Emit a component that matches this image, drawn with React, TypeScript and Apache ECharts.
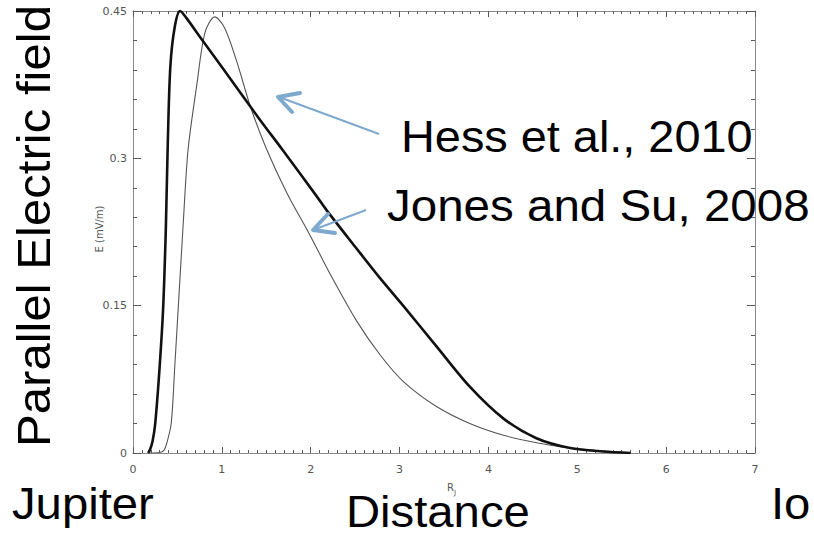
import React, { useEffect, useRef } from "react";
import * as echarts from "echarts";

// Hess et al., 2010 (thick line)
const hessX = [0.17, 0.19, 0.22, 0.25, 0.3, 0.34, 0.37, 0.39, 0.42, 0.47, 0.53, 0.6, 0.75, 1.0, 1.43, 1.68, 2.07, 2.18, 2.5, 2.78, 3.04, 3.42, 3.79, 4.17, 4.54, 4.92, 5.29, 5.6];
const hessY = [0, 0.003, 0.012, 0.03, 0.088, 0.149, 0.23, 0.31, 0.393, 0.434, 0.45, 0.443, 0.424, 0.393, 0.339, 0.309, 0.261, 0.247, 0.21, 0.178, 0.15, 0.108, 0.0675, 0.035, 0.015, 0.005, 0.0015, 0];

// Jones and Su, 2008 (thin line)
const jonesX = [0.19, 0.3, 0.35, 0.38, 0.43, 0.47, 0.51, 0.57, 0.62, 0.72, 0.81, 0.92, 1.03, 1.17, 1.32, 1.5, 1.73, 1.99, 2.22, 2.52, 2.78, 3.04, 3.42, 3.79, 4.17, 4.54, 4.92, 5.29, 5.6];
const jonesY = [0, 0.0005, 0.003, 0.01, 0.03, 0.088, 0.149, 0.241, 0.309, 0.376, 0.428, 0.444, 0.433, 0.398, 0.353, 0.31, 0.265, 0.222, 0.182, 0.134, 0.1, 0.073, 0.047, 0.03, 0.018, 0.0105, 0.005, 0.002, 0];

const xMin = 0, xMax = 7, xStep = 1;
const yMin = 0, yMax = 0.45, yStep = 0.15;

const seriesNames = ["Hess et al., 2010", "Jones and Su, 2008"];
const yAxisName = "E (mV/m)";
const bigYLabel = "Parallel Electric field";
const leftLabel = "Jupiter";
const centerLabel = "Distance";
const rightLabel = "Io";

const tickGray = "#5a5a5a";
const lineGray = "#8a8a8a";
const labelGray = "#555";
const arrowBlue = "#7ea9cf";
const bigFont = "Liberation Sans, Arial, sans-serif";

export default function App() {
  const ref = useRef<HTMLDivElement>(null);
  useEffect(() => {
    document.body.style.margin = "0";
    const chart = echarts.init(ref.current!, null, { renderer: "svg" });
    const hess = hessX.map((x, i) => [x, hessY[i]]);
    const jones = jonesX.map((x, i) => [x, jonesY[i]]);
    const xBase = {
      type: "value",
      min: xMin,
      max: xMax,
      interval: xStep,
      splitLine: { show: false },
      axisLine: { show: true, onZero: false, lineStyle: { color: lineGray } },
      axisTick: { show: true, inside: true, length: 6, lineStyle: { color: tickGray, width: 1 } },
      minorTick: { show: true, splitNumber: 10, length: 3, lineStyle: { color: tickGray, width: 1 } },
      axisLabel: { show: false },
    };
    const yBase = {
      type: "value",
      min: yMin,
      max: yMax,
      interval: yStep,
      splitLine: { show: false },
      axisLine: { show: true, onZero: false, lineStyle: { color: lineGray } },
      axisTick: { show: true, inside: true, length: 8, lineStyle: { color: tickGray, width: 1 } },
      minorTick: { show: true, splitNumber: 5, length: 4, lineStyle: { color: tickGray, width: 1 } },
      axisLabel: { show: false },
    };
    chart.setOption({
      animation: false,
      grid: { left: 133, right: 59, top: 11, bottom: 82 },
      xAxis: [
        {
          type: "value",
          min: xMin,
          max: xMax,
          interval: xStep,
          position: "bottom",
          splitLine: { show: false },
          axisLine: { show: true, onZero: false, lineStyle: { color: lineGray } },
          axisTick: { show: false },
          axisLabel: { show: true, margin: 11, color: labelGray, fontSize: 11, fontFamily: "DejaVu Sans" },
        },
        { ...xBase, position: "top" },
        { ...xBase, position: "bottom" },
      ],
      yAxis: [
        {
          type: "value",
          min: yMin,
          max: yMax,
          interval: yStep,
          position: "left",
          splitLine: { show: false },
          axisLine: { show: true, onZero: false, lineStyle: { color: lineGray } },
          axisTick: { show: false },
          axisLabel: { show: true, margin: 6, color: labelGray, fontSize: 11, fontFamily: "DejaVu Sans" },
        },
        { ...yBase, position: "right" },
        { ...yBase, position: "left" },
      ],
      series: [
        { name: seriesNames[0], type: "line", data: hess, showSymbol: false, smooth: 0.3, lineStyle: { color: "#111", width: 2.6 }, z: 3 },
        { name: seriesNames[1], type: "line", data: jones, showSymbol: false, smooth: 0.3, lineStyle: { color: "#555", width: 1.1 }, z: 2 },
      ],
      graphic: [
        { type: "line", shape: { x1: 379, y1: 134, x2: 279, y2: 97 }, style: { stroke: arrowBlue, lineWidth: 2 }, z: 10 },
        { type: "polyline", shape: { points: [[300, 93], [278, 97], [292, 112]] }, style: { stroke: arrowBlue, lineWidth: 4, fill: null, lineJoin: "round", lineCap: "round" }, z: 10 },
        { type: "line", shape: { x1: 366, y1: 210, x2: 313, y2: 230 }, style: { stroke: arrowBlue, lineWidth: 2 }, z: 10 },
        { type: "polyline", shape: { points: [[328, 214], [313, 230], [335, 233]] }, style: { stroke: arrowBlue, lineWidth: 4, fill: null, lineJoin: "round", lineCap: "round" }, z: 10 },
        { type: "text", x: 401, y: 137, scaleX: 1.065, z: 20, style: { text: seriesNames[0], font: `44px ${bigFont}`, lineHeight: 36, fill: "#000", verticalAlign: "middle", align: "left" } },
        { type: "text", x: 387, y: 206, scaleX: 1.08, z: 20, style: { text: seriesNames[1], font: `44px ${bigFont}`, lineHeight: 36, fill: "#000", verticalAlign: "middle", align: "left" } },
        { type: "text", x: 33, y: 226, rotation: Math.PI / 2, scaleX: 1.045, z: 20, style: { text: bigYLabel, font: `47px ${bigFont}`, lineHeight: 38, fill: "#000", verticalAlign: "middle", align: "center" } },
        { type: "text", x: 99, y: 229, rotation: Math.PI / 2, z: 20, style: { text: yAxisName, font: `10px DejaVu Sans`, fill: labelGray, verticalAlign: "middle", align: "center" } },
        { type: "text", x: 447, y: 487, z: 20, style: { text: "R", font: `10px DejaVu Sans`, fill: labelGray, verticalAlign: "middle", align: "left" } },
        { type: "text", x: 454, y: 493, z: 20, style: { text: "J", font: `7px DejaVu Sans`, fill: labelGray, verticalAlign: "middle", align: "left" } },
        { type: "text", x: 12, y: 503, scaleX: 1.05, z: 20, style: { text: leftLabel, font: `45px ${bigFont}`, lineHeight: 36, fill: "#000", verticalAlign: "middle", align: "left" } },
        { type: "text", x: 346, y: 511, scaleX: 1.05, z: 20, style: { text: centerLabel, font: `45px ${bigFont}`, lineHeight: 36, fill: "#000", verticalAlign: "middle", align: "left" } },
        { type: "text", x: 771, y: 503, scaleX: 1.05, z: 20, style: { text: rightLabel, font: `45px ${bigFont}`, lineHeight: 36, fill: "#000", verticalAlign: "middle", align: "left" } },
      ],
    });
    return () => chart.dispose();
  }, []);
  return <div ref={ref} style={{ width: 814, height: 535 }} />;
}
